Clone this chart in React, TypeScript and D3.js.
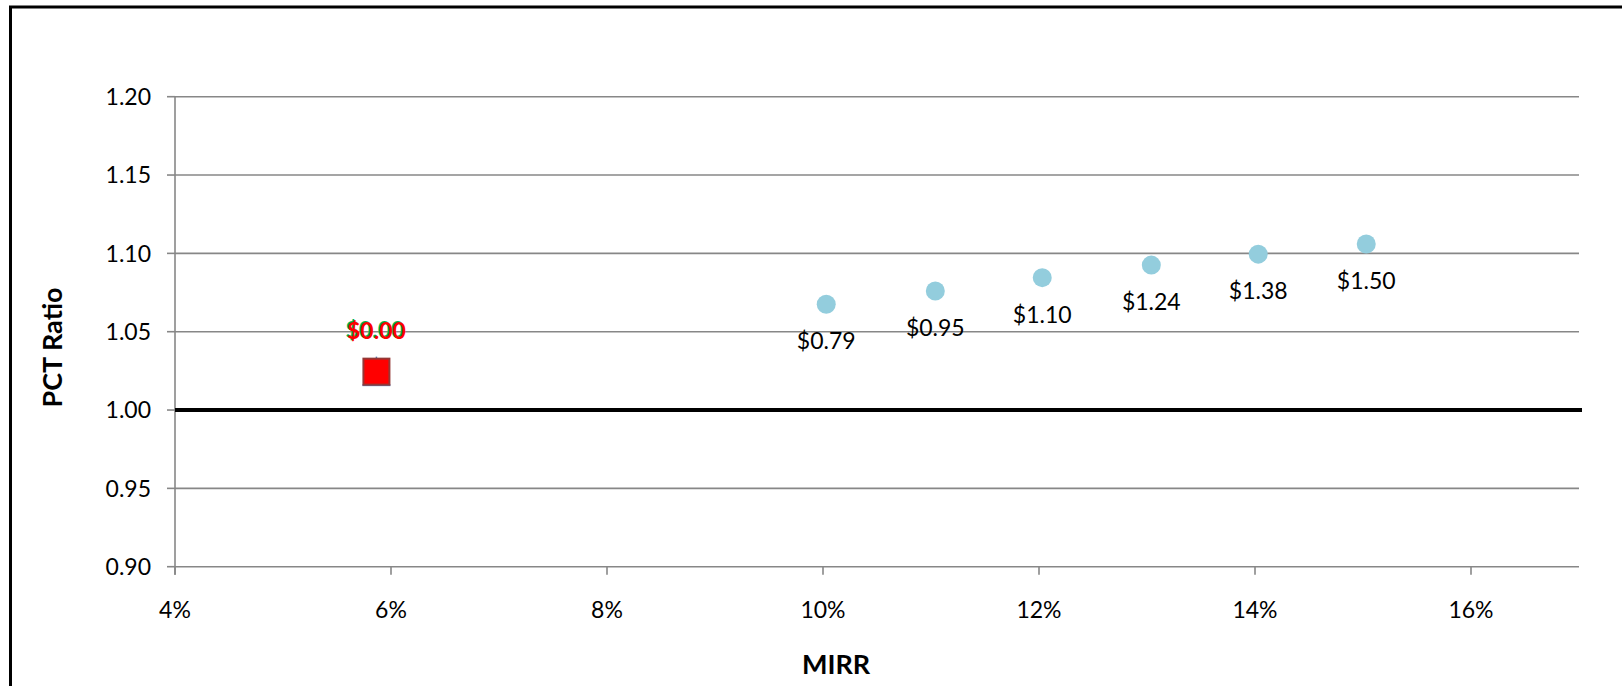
import React from "react";
import * as d3 from "d3";

const xTicks = [4, 6, 8, 10, 12, 14, 16];
const yTicks = [0.9, 0.95, 1.0, 1.05, 1.1, 1.15, 1.2];
const blueMirr = [10.03, 11.04, 12.03, 13.04, 14.03, 15.03];
const bluePct = [1.0675, 1.076, 1.0845, 1.0925, 1.0995, 1.106];
const blueLabels = ["$0.79", "$0.95", "$1.10", "$1.24", "$1.38", "$1.50"];
const redMirr = [5.865];
const redPct = [1.0245];
const redLabels = ["$0.00"];
const baseline = 1.0;

const W = 1622;
const H = 686;
const FONT = "Lato, 'Open Sans', sans-serif";

export default function App() {
  const x = d3.scaleLinear().domain([4, 17]).range([175, 1579]);
  const y = d3.scaleLinear().domain([0.9, 1.2]).range([566.7, 96.7]);
  const grid = "#878787";

  return (
    <div style={{ position: "absolute", left: 0, top: 0 }}>
      <svg width={W} height={H} style={{ display: "block" }}>
        <rect x={0} y={0} width={W} height={H} fill="#fff" />
        <rect x={10.5} y={7} width={W + 20} height={H + 20} fill="none" stroke="#000" strokeWidth={3} />
        {yTicks.map((t) => (
          <line key={"g" + t} x1={x(4)} x2={x(17)} y1={y(t)} y2={y(t)} stroke={grid} strokeWidth={1.6} />
        ))}
        <line x1={x(4)} x2={x(4)} y1={y(1.2)} y2={y(0.9) + 8} stroke={grid} strokeWidth={1.6} />
        {yTicks.map((t) => (
          <g key={"yt" + t}>
            <line x1={x(4) - 8} x2={x(4)} y1={y(t)} y2={y(t)} stroke={grid} strokeWidth={1.6} />
            <text x={151} y={y(t)} dy="0.36em" textAnchor="end" fontFamily={FONT} fontSize={23} fill="#000">
              {t.toFixed(2)}
            </text>
          </g>
        ))}
        {xTicks.map((t) => (
          <g key={"xt" + t}>
            <line x1={x(t)} x2={x(t)} y1={y(0.9)} y2={y(0.9) + 8} stroke={grid} strokeWidth={1.6} />
            <text x={x(t)} y={618} textAnchor="middle" fontFamily={FONT} fontSize={23} fill="#000">
              {t + "%"}
            </text>
          </g>
        ))}
        <line x1={x(4)} x2={x(17) + 3} y1={y(baseline)} y2={y(baseline)} stroke="#000" strokeWidth={4} />
        {blueMirr.map((m, i) => (
          <g key={"b" + i}>
            <circle cx={x(m)} cy={y(bluePct[i])} r={9.5} fill="#93CDDD" />
            <text x={x(m)} y={y(bluePct[i]) + 45} textAnchor="middle" fontFamily={FONT} fontSize={23} fill="#000">
              {blueLabels[i]}
            </text>
          </g>
        ))}
        {redMirr.map((m, i) => {
          const cx = x(m);
          const cy = y(redPct[i]);
          return (
            <g key={"r" + i}>
              <line x1={cx - 14} x2={cx + 14} y1={cy + 13.5} y2={cy + 13.5} stroke="#4F81BD" strokeWidth={2} />
              <line x1={cx} x2={cx} y1={cy - 15} y2={cy - 12} stroke="#4F81BD" strokeWidth={1.5} />
              <rect x={cx - 13} y={cy - 13} width={26} height={26} fill="#FF0000" stroke="#953735" strokeWidth={2} />
              <text x={cx - 1.5} y={cy - 33.5} textAnchor="middle" fontFamily={FONT} fontWeight="bold" fontSize={23} fill="#00B050">
                {redLabels[i]}
              </text>
              <text x={cx} y={cy - 32.5} textAnchor="middle" fontFamily={FONT} fontWeight="bold" fontSize={23} fill="#FF0000">
                {redLabels[i]}
              </text>
            </g>
          );
        })}
        <text x={836} y={674} textAnchor="middle" fontFamily={FONT} fontWeight="bold" fontSize={27} fill="#000">
          MIRR
        </text>
        <text
          transform={`translate(61.5,347.5) rotate(-90)`}
          textAnchor="middle"
          fontFamily={FONT}
          fontWeight="bold"
          fontSize={27}
          fill="#000"
        >
          PCT Ratio
        </text>
      </svg>
    </div>
  );
}
